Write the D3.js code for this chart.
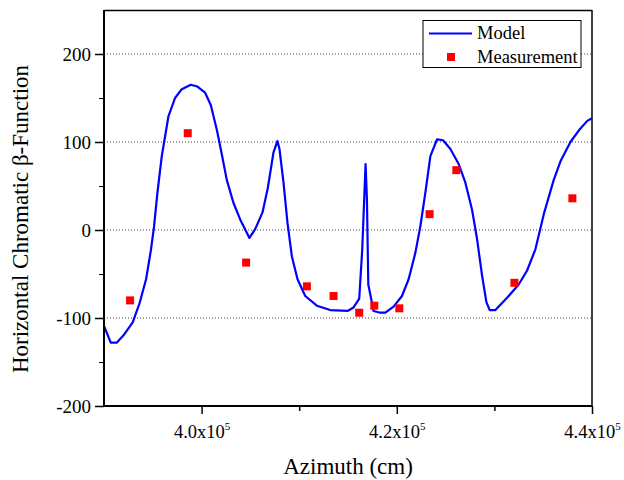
<!DOCTYPE html>
<html><head><meta charset="utf-8">
<script src="https://cdn.jsdelivr.net/npm/d3@7"></script>
<style>body{margin:0;background:#fff}svg{display:block}</style>
</head><body>
<script>
// Model curve: azimuth (cm) and chromatic beta
const modelX = [390000,390690,391300,391980,392940,393620,394310,394790,395130,395470,395920,396600,397280,397970,398890,399570,400360,400940,401560,402070,402580,403260,403950,404900,405490,406240,406790,407360,407770,407980,408390,408800,409250,409830,410620,411810,413180,414950,415570,416150,416460,416800,416940,417080,417620,418310,418820,419670,420530,421210,421900,422410,422920,423440,424120,424740,425490,426340,427020,427710,428220,428740,429180,429520,430100,431300,432490,433350,434200,435060,436080,436770,437790,438640,439510,440000];
const modelY = [-109,-128,-128,-120,-105,-84,-56,-24,4,42,84,129,150,160,165,163,156,142,114,86,57,31,12,-9,1,20,48,88,101,92,54,8,-30,-56,-75,-86,-91,-92,-88,-78,-22,75,35,-62,-92,-94,-94,-87,-75,-56,-26,4,42,84,103,102,92,75,54,23,-10,-52,-82,-91,-91,-77,-62,-46,-22,18,57,78,100,113,124,127];
// Measurements
const measX = [392670,398580,404560,410790,413520,416150,417690,420260,423360,426100,432050,437990];
const measY = [-80,110,-37,-64,-75,-94,-86,-89,18,68,-60,36];
// Axis ticks
const yMajorTicks = [-200,-100,0,100,200];
const yMinorTicks = [-150,-50,50,150];
const yGridTicks = [-100,0,100,200];
const xMajorTicks = [400000,420000,440000];
const xMajorLabels = ["4.0","4.2","4.4"];
const xMinorTicks = [410000,430000];
const seriesNames = ["Model","Measurement"];

const FONT = "Liberation Serif";
const W = 624, H = 480;
const m = {l:104, r:32, t:10, b:74};
const svg = d3.select("body").append("svg").attr("width",W).attr("height",H);
const x = d3.scaleLinear().domain([390000,440000]).range([m.l, W-m.r]);
const y = d3.scaleLinear().domain([-200,250]).range([H-m.b, m.t]);

// grid
svg.append("g").selectAll("line").data(yGridTicks).join("line")
  .attr("x1",m.l).attr("x2",W-m.r).attr("y1",d=>y(d)).attr("y2",d=>y(d))
  .attr("stroke","#444").attr("stroke-width",1).attr("stroke-dasharray","1,2");

// frame top/right
svg.append("line").attr("x1",m.l).attr("x2",W-m.r).attr("y1",m.t+0.5).attr("y2",m.t+0.5).attr("stroke","#000").attr("stroke-width",1.5);
svg.append("line").attr("x1",W-m.r).attr("x2",W-m.r).attr("y1",m.t).attr("y2",H-m.b).attr("stroke","#000").attr("stroke-width",1.5);

// model line
svg.append("path").datum(d3.range(modelX.length))
  .attr("fill","none").attr("stroke","#0000ff").attr("stroke-width",2.2).attr("stroke-linejoin","round")
  .attr("d", d3.line().x(i=>x(modelX[i])).y(i=>y(modelY[i])));

// measurements
svg.append("g").selectAll("rect").data(d3.range(measX.length)).join("rect")
  .attr("x",i=>x(measX[i])-4).attr("y",i=>y(measY[i])-4).attr("width",8).attr("height",8).attr("fill","#ff0000");

// axes
const yAxis = svg.append("g").attr("transform",`translate(${m.l},0)`)
  .call(d3.axisLeft(y).tickValues(yMajorTicks).tickSize(9).tickPadding(4).tickFormat(d=>String(d)));
svg.append("g").attr("transform",`translate(${m.l},0)`)
  .call(d3.axisLeft(y).tickValues(yMinorTicks).tickSize(5).tickFormat(""))
  .call(g=>g.select(".domain").remove());
yAxis.select(".domain").attr("stroke-width",2).attr("d",`M0,${m.t}V${H-m.b}`);
yAxis.selectAll(".tick line").attr("stroke-width",1.5);
yAxis.selectAll("text").attr("font-family",FONT).attr("font-size",19).attr("fill","#000");

const xAxis = svg.append("g").attr("transform",`translate(0,${H-m.b})`)
  .call(d3.axisBottom(x).tickValues(xMajorTicks).tickSize(8).tickPadding(8).tickFormat(""));
xAxis.select(".domain").attr("stroke-width",2).attr("d",`M${m.l},0H${W-m.r}`);
xAxis.selectAll(".tick line").attr("stroke-width",1.5);
svg.append("g").attr("transform",`translate(0,${H-m.b})`)
  .call(d3.axisBottom(x).tickValues(xMinorTicks).tickSize(5).tickFormat(""))
  .call(g=>g.select(".domain").remove())
  .selectAll(".tick line").attr("stroke-width",1.5);
xAxis.selectAll(".tick").each(function(d,i){
  const t = d3.select(this).append("text").attr("y",32).attr("text-anchor","middle")
    .attr("font-family",FONT).attr("font-size",18.5).attr("fill","#000");
  t.append("tspan").text(xMajorLabels[i]+"x10");
  t.append("tspan").attr("dy",-8).attr("font-size",11).text("5");
});

// axis titles
svg.append("text").attr("x",348).attr("y",474).attr("text-anchor","middle")
  .attr("font-family",FONT).attr("font-size",23).attr("fill","#000").text("Azimuth (cm)");
svg.append("text").attr("transform",`translate(28,219) rotate(-90)`).attr("text-anchor","middle")
  .attr("font-family",FONT).attr("font-size",23).attr("fill","#000").text("Horizontal Chromatic β-Function");

// legend
const lg = svg.append("g");
lg.append("rect").attr("x",423).attr("y",20.5).attr("width",158).attr("height",47).attr("fill","#fff").attr("stroke","#000").attr("stroke-width",1);
lg.append("line").attr("x1",429).attr("x2",472).attr("y1",33.5).attr("y2",33.5).attr("stroke","#0000ff").attr("stroke-width",2);
lg.append("rect").attr("x",447).attr("y",53).attr("width",8).attr("height",8).attr("fill","#ff0000");
lg.selectAll("text").data(seriesNames).join("text").attr("x",477).attr("y",(d,i)=>39+i*24)
  .attr("font-family",FONT).attr("font-size",18.5).attr("fill","#000").text(d=>d);
</script>
</body></html>
